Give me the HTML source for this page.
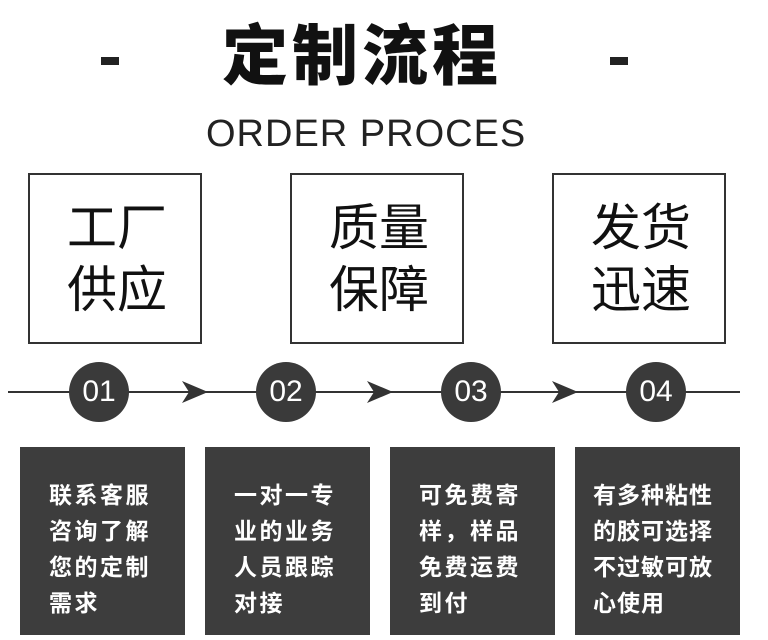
<!DOCTYPE html>
<html><head><meta charset="utf-8"><style>
body{margin:0;width:768px;height:640px;background:#fff;position:relative;overflow:hidden;font-family:"Liberation Sans","Noto Sans CJK SC",sans-serif}
.a{position:absolute}
.t{left:0;width:768px;text-align:center}
.ob{position:absolute;top:173px;width:174px;height:171px;border:2px solid #333;box-sizing:border-box}
.ob div{position:absolute;left:37px;top:22px;font-size:50px;line-height:62px;color:#111}
.c{position:absolute;top:362px;width:60px;height:60px;border-radius:50%;background:#3a3a3a;color:#fff;font-size:30px;line-height:60px;text-align:center}
.db{position:absolute;top:447px;width:165px;height:188px;background:#3d3d3d}
.db div{position:absolute;left:29px;top:30px;font-size:23px;font-weight:bold;line-height:36px;color:#fff;letter-spacing:2.5px;white-space:nowrap}
</style></head><body>
<div class="a" style="left:222px;top:14px;font-size:66px;font-weight:900;line-height:84px;color:#111;letter-spacing:4px;white-space:nowrap">定制流程</div>
<div class="a" style="left:101px;top:57px;width:18px;height:8px;background:#222"></div>
<div class="a" style="left:610px;top:57px;width:18px;height:8px;background:#222"></div>
<div class="a" style="left:206px;top:110px;font-size:38px;line-height:48px;color:#222;letter-spacing:1px;white-space:nowrap">ORDER PROCES</div>
<div class="ob" style="left:28px"><div>工厂<br>供应</div></div>
<div class="ob" style="left:290px"><div>质量<br>保障</div></div>
<div class="ob" style="left:552px"><div>发货<br>迅速</div></div>
<svg class="a" style="left:0;top:0" width="768" height="640">
<line x1="8" y1="392" x2="740" y2="392" stroke="#333" stroke-width="2"/>
<path d="M182 381 L208 392 L182 403 L189 392Z" fill="#333"/>
<path d="M367 381 L393 392 L367 403 L374 392Z" fill="#333"/>
<path d="M552 381 L578 392 L552 403 L559 392Z" fill="#333"/>
</svg>
<div class="c" style="left:69px">01</div>
<div class="c" style="left:256px">02</div>
<div class="c" style="left:441px">03</div>
<div class="c" style="left:626px">04</div>
<div class="db" style="left:20px"><div>联系客服<br>咨询了解<br>您的定制<br>需求</div></div>
<div class="db" style="left:205px"><div>一对一专<br>业的业务<br>人员跟踪<br>对接</div></div>
<div class="db" style="left:390px"><div>可免费寄<br>样，样品<br>免费运费<br>到付</div></div>
<div class="db" style="left:575px"><div style="left:18px;letter-spacing:1px">有多种粘性<br>的胶可选择<br>不过敏可放<br>心使用</div></div>
</body></html>
